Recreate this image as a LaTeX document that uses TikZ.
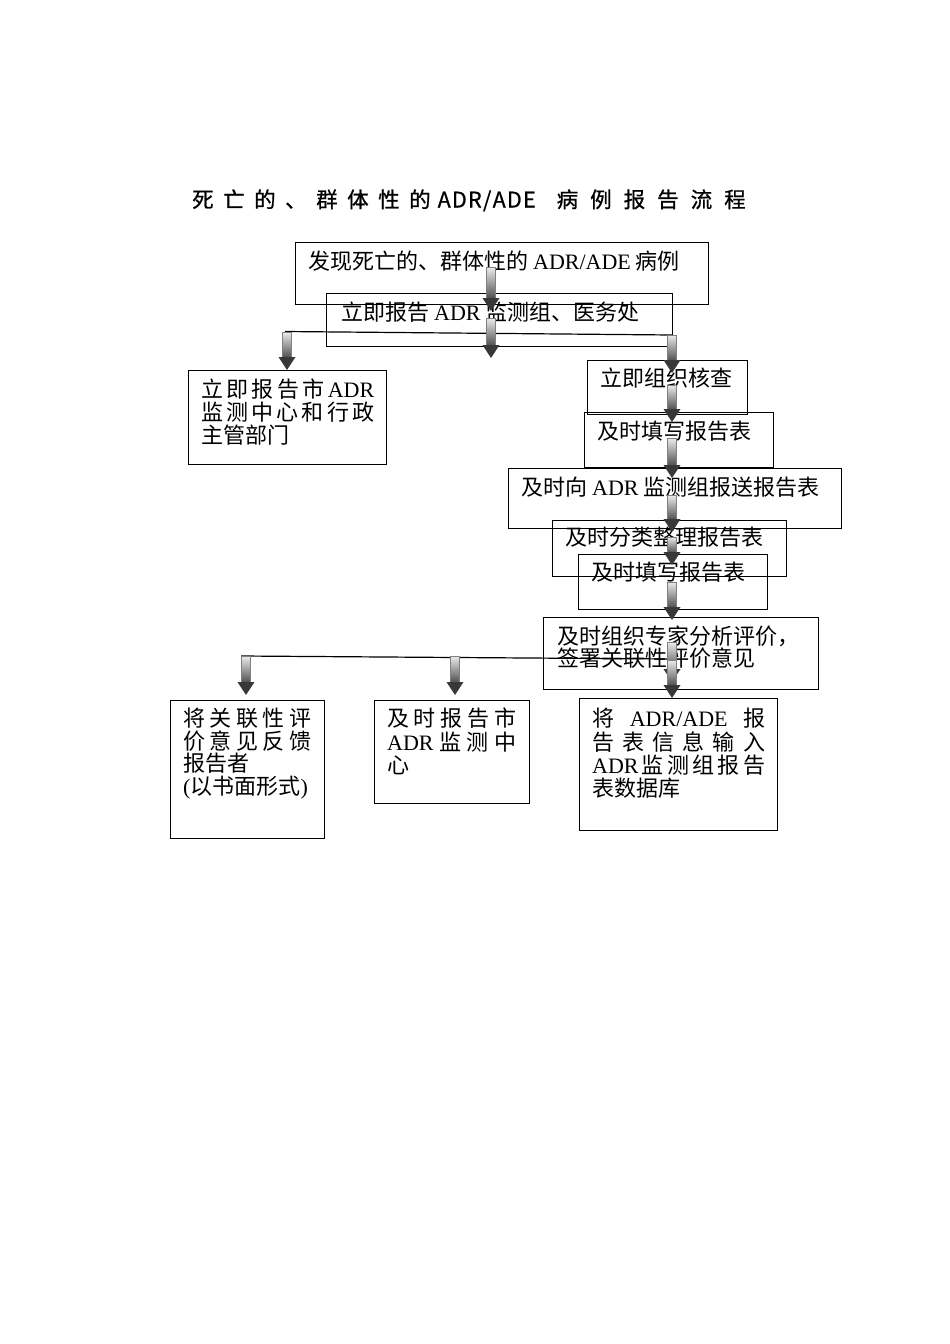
\documentclass[tikz,border=0pt]{standalone}
\usepackage{fontspec}
\setmainfont{Noto Sans CJK SC}
\newfontfamily\lat{Liberation Serif}
\newfontfamily\titlefont{Noto Sans CJK SC}[FakeBold=0.8]
\usetikzlibrary{calc}
\newcommand\garr[2]{%
 \shade[top color=gray!15, bottom color=black!70, draw=black!50, line width=0.3pt] ($(#1)+(-4.5,0)$) rectangle ($(#2)+(4.5,-12)$);
 \fill[black!78] ($(#2)+(-8.5,-13)$) -- ($(#2)+(8.5,-13)$) -- (#2) -- cycle;}
\newcommand\tgapa{\hspace{9.5pt}}
\newcommand\tgapb{\hspace{12pt}}
\begin{document}
\begin{tikzpicture}[x=1pt,y=-1pt,
  box/.style={draw, line width=1.3pt, inner sep=0pt, anchor=north west},
  txt/.style={inner sep=0pt, anchor=base west, font=\fontsize{22}{23}\selectfont},
  conn/.style={line width=1.2pt}]
\useasboundingbox (0,0) rectangle (950,1344);
% title
\node[inner sep=0pt, anchor=base west, font=\titlefont\fontsize{21.5}{23}\selectfont] (title) at (192,207.5)
 {死\tgapa 亡\tgapa 的\tgapa 、\tgapa 群\tgapa 体\tgapa 性\tgapa 的\hspace{7pt}\makebox[98pt][s]{A\hfil D\hfil R\hfil /\hfil A\hfil D\hfil E}\hspace{21pt}病\tgapb 例\tgapb 报\tgapb 告\tgapb 流\tgapb 程};
% boxes
\node[box, minimum width=413, minimum height=62] (b1) at (295,242) {};
\node[box, minimum width=346, minimum height=53] (b2) at (326,293) {};
\node[box, minimum width=198, minimum height=94] (b3) at (188,370) {};
\node[box, minimum width=160, minimum height=54] (b4) at (587,360) {};
\node[box, minimum width=189, minimum height=55] (b5) at (584,412) {};
\node[box, minimum width=333, minimum height=60] (b6) at (508,468) {};
\node[box, minimum width=234, minimum height=56] (b7) at (552,520) {};
\node[box, minimum width=189, minimum height=55] (b8) at (578,554) {};
\node[box, minimum width=275, minimum height=72] (b9) at (543,617) {};
\node[box, minimum width=154, minimum height=138] (b11) at (170,700) {};
\node[box, minimum width=155, minimum height=103] (b12) at (374,700) {};
\node[box, minimum width=198, minimum height=132] (b13) at (579,698) {};
% texts
\node[txt] (t1) at (308,269.5) {发现死亡的、群体性的 {\lat ADR/ADE} 病例};
\node[txt] (t2) at (341,320.5) {立即报告 {\lat ADR} 监测组、医务处};
\node[txt] (t3a) at (201,397.5) {\makebox[173pt][s]{立\hfil 即\hfil 报\hfil 告\hfil 市\hfil {\lat ADR}}};
\node[txt] (t3b) at (201,420.5) {\makebox[173pt][s]{监\hfil 测\hfil 中\hfil 心\hfil 和\hfil 行\hfil 政}};
\node[txt] (t3c) at (201,443.5) {主管部门};
\node[txt] (t4) at (600,386.5) {立即组织核查};
\node[txt] (t5) at (597,439.5) {及时填写报告表};
\node[txt] (t6) at (521,495.5) {及时向 {\lat ADR} 监测组报送报告表};
\node[txt] (t7) at (565,545.5) {及时分类整理报告表};
\node[txt] (t8) at (591,580.5) {及时填写报告表};
\node[txt] (t9a) at (557,644.5) {及时组织专家分析评价，};
\node[txt] (t9b) at (557,666.5) {签署关联性评价意见};
\node[txt] (t11a) at (183,726.5) {\makebox[128pt][s]{将\hfil 关\hfil 联\hfil 性\hfil 评}};
\node[txt] (t11b) at (183,749.5) {\makebox[128pt][s]{价\hfil 意\hfil 见\hfil 反\hfil 馈}};
\node[txt] (t11c) at (183,771.5) {报告者};
\node[txt] (t11d) at (183,794.5) {{\lat(}以书面形式{\lat)}};
\node[txt] (t12a) at (387,726.5) {\makebox[129pt][s]{及\hfil 时\hfil 报\hfil 告\hfil 市}};
\node[txt] (t12b) at (387,750.5) {\makebox[129pt][s]{{\lat ADR}\hfil 监\hfil 测\hfil 中}};
\node[txt] (t12c) at (387,773.5) {心};
\node[txt] (t13a) at (592,726.5) {\makebox[173pt][s]{将\hfil {\lat ADR/ADE}\hfil 报}};
\node[txt] (t13b) at (592,750.5) {\makebox[173pt][s]{告\hfil 表\hfil 信\hfil 息\hfil 输\hfil 入}};
\node[txt] (t13c) at (592,773.5) {\makebox[173pt][s]{{\lat ADR}\hfil 监\hfil 测\hfil 组\hfil 报\hfil 告}};
\node[txt] (t13d) at (592,796.5) {表数据库};
% connector lines
\coordinate (l1a) at (285,331.5); \coordinate (l1b) at (672,335);
\coordinate (l2a) at (241,656); \coordinate (l2b) at (672,659);
\draw[conn] (l1a) -- (l1b);
\draw[conn] (l2a) -- (l2b);
% arrows
\coordinate (a1s) at (491,267); \coordinate (a1e) at (491,311);
\coordinate (a2s) at (491,318); \coordinate (a2e) at (491,358);
\coordinate (aLs) at (287,332); \coordinate (aLe) at (287,370);
\coordinate (r1s) at (672,335); \coordinate (r1e) at (672,373);
\coordinate (r2s) at (672,385); \coordinate (r2e) at (672,422);
\coordinate (r3s) at (672,438); \coordinate (r3e) at (672,478);
\coordinate (r4s) at (672,495); \coordinate (r4e) at (672,532);
\coordinate (r5s) at (672,537); \coordinate (r5e) at (672,565);
\coordinate (r6s) at (672,582); \coordinate (r6e) at (672,620);
\coordinate (r7s) at (672,642); \coordinate (r7e) at (672,682);
\coordinate (r8s) at (672,660); \coordinate (r8e) at (672,698);
\coordinate (bLs) at (246,656); \coordinate (bLe) at (246,695);
\coordinate (bMs) at (455,656); \coordinate (bMe) at (455,695);
\garr{a1s}{a1e}
\garr{a2s}{a2e}
\garr{aLs}{aLe}
\garr{r1s}{r1e}
\garr{r2s}{r2e}
\garr{r3s}{r3e}
\garr{r4s}{r4e}
\garr{r5s}{r5e}
\garr{r6s}{r6e}
\garr{r7s}{r7e}
\garr{r8s}{r8e}
\garr{bLs}{bLe}
\garr{bMs}{bMe}
\end{tikzpicture}
\end{document}
